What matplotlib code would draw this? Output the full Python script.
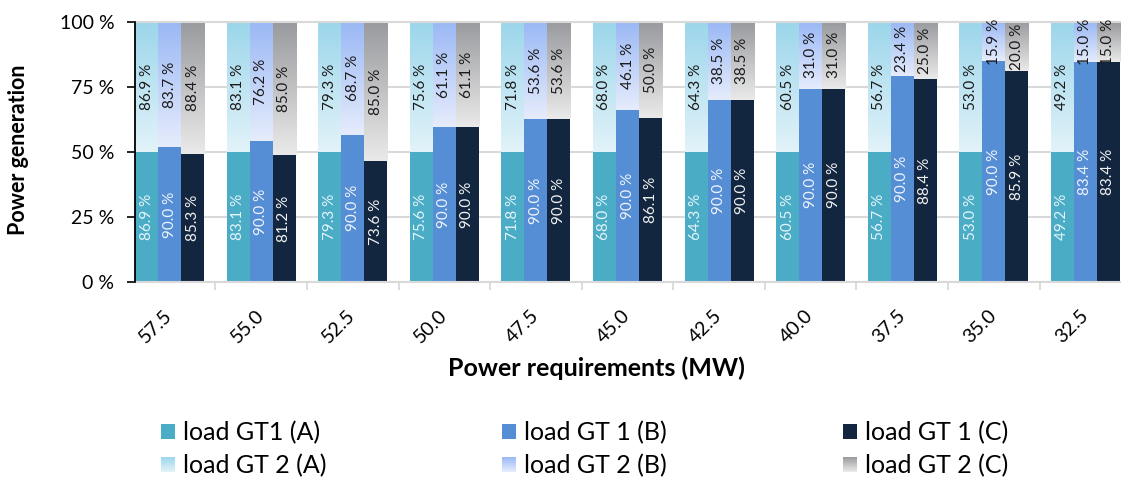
import numpy as np
import matplotlib
matplotlib.use("Agg")
import matplotlib.pyplot as plt
import matplotlib.transforms as mtransforms
from matplotlib.patches import Rectangle, Patch
from matplotlib.legend_handler import HandlerBase
from matplotlib.colors import to_rgb

plt.rcParams['font.family'] = ['Lato', 'DejaVu Sans']

# Power requirement cases (MW)
requirements = ["57.5", "55.0", "52.5", "50.0", "47.5", "45.0",
                "42.5", "40.0", "37.5", "35.0", "32.5"]

# Gas turbine loads (%) for the three operating strategies
gt1_a = [86.9, 83.1, 79.3, 75.6, 71.8, 68.0, 64.3, 60.5, 56.7, 53.0, 49.2]
gt2_a = [86.9, 83.1, 79.3, 75.6, 71.8, 68.0, 64.3, 60.5, 56.7, 53.0, 49.2]
gt1_b = [90.0, 90.0, 90.0, 90.0, 90.0, 90.0, 90.0, 90.0, 90.0, 90.0, 83.4]
gt2_b = [83.7, 76.2, 68.7, 61.1, 53.6, 46.1, 38.5, 31.0, 23.4, 15.9, 15.0]
gt1_c = [85.3, 81.2, 73.6, 90.0, 90.0, 86.1, 90.0, 90.0, 88.4, 85.9, 83.4]
gt2_c = [88.4, 85.0, 85.0, 61.1, 53.6, 50.0, 38.5, 31.0, 25.0, 20.0, 15.0]

series = [
    dict(gt1=gt1_a, gt2=gt2_a, c1='#4BACC6', grad=('#9CD6EB', '#E2F3F9'), lc='#E4F5FA',
         l1='load GT1 (A)', l2='load GT 2 (A)'),
    dict(gt1=gt1_b, gt2=gt2_b, c1='#558ED5', grad=('#9AB8F5', '#E6ECFC'), lc='#F0F4FC',
         l1='load GT 1 (B)', l2='load GT 2 (B)'),
    dict(gt1=gt1_c, gt2=gt2_c, c1='#132640', grad=('#999A9E', '#EAEAEA'), lc='#F2F2F2',
         l1='load GT 1 (C)', l2='load GT 2 (C)'),
]


def gradient(top, bottom, n=256):
    t = np.linspace(0, 1, n)[:, None]
    c0 = np.array(to_rgb(top))
    c1 = np.array(to_rgb(bottom))
    return (c0 * (1 - t) + c1 * t)[:, None, :]


class GradientHandler(HandlerBase):
    def __init__(self, top, bottom, steps=24):
        super().__init__()
        self.top, self.bottom, self.steps = top, bottom, steps

    def create_artists(self, legend, orig_handle, xdescent, ydescent,
                       width, height, fontsize, trans):
        arts = []
        c0 = np.array(to_rgb(self.top))
        c1 = np.array(to_rgb(self.bottom))
        h = height / self.steps
        for i in range(self.steps):
            t = i / (self.steps - 1)
            col = c1 * (1 - t) + c0 * t
            r = Rectangle((-xdescent, -ydescent + i * h), width, h * 1.05,
                          facecolor=col, edgecolor='none', transform=trans)
            arts.append(r)
        return arts


W, H = 1130, 478
fig = plt.figure(figsize=(W / 100, H / 100), dpi=100)
ax = fig.add_axes([135 / W, 1 - 282 / H, 985 / W, 260 / H])

x = np.arange(len(requirements))
w = 0.2514

for k, s in enumerate(series):
    g1 = np.array(s['gt1'])
    g2 = np.array(s['gt2'])
    total = g1 + g2
    share1 = g1 / total * 100
    share2 = g2 / total * 100
    pos = x + (k - 1) * w
    ax.bar(pos, share1, width=w, color=s['c1'], linewidth=0, zorder=2)
    tops = ax.bar(pos, share2, bottom=share1, width=w, color='none',
                  linewidth=0, zorder=2)
    img = gradient(*s['grad'])
    for r in tops:
        x0, y0 = r.get_x(), r.get_y()
        ax.imshow(img, extent=(x0, x0 + r.get_width(), y0, y0 + r.get_height()),
                  aspect='auto', interpolation='bilinear', zorder=2)
    for p, v1, v2, b1, b2 in zip(pos, g1, g2, share1, share2):
        ax.text(p, b1 / 2, f"{v1:.1f} %", rotation=90, ha='center', va='center',
                fontsize=11, color=s['lc'], zorder=3)
        ax.text(p, b1 + b2 / 2, f"{v2:.1f} %", rotation=90, ha='center', va='center',
                fontsize=11, color='#1A1A1A', zorder=3)

ax.set_yticks([0, 25, 50, 75, 100])
ax.set_yticklabels([f"{v} %" for v in [0, 25, 50, 75, 100]], fontsize=14)
ax.set_xticks(x)
ax.set_xticklabels(requirements, fontsize=14, rotation=45, ha='right',
                   va='center', rotation_mode='anchor')
shift = mtransforms.ScaledTranslation(2 / 72, 0, fig.dpi_scale_trans)
for lbl in ax.get_xticklabels():
    lbl.set_transform(lbl.get_transform() + shift)
ax.set_xticks(np.arange(1, len(requirements)) - 0.5, minor=True)
ax.tick_params(axis='x', which='major', length=0, pad=22)
ax.tick_params(axis='x', which='minor', length=6, color='#D9D9D9', width=1.3)
ax.tick_params(axis='y', length=6, color='black', width=1.2, pad=9)

ax.set_xlim(-1.5 * w, len(requirements) - 1 + 1.5 * w)
ax.set_ylim(0, 100)

ax.set_axisbelow(True)
ax.yaxis.grid(True, color='#D9D9D9', linewidth=1.5, zorder=0)
ax.spines['right'].set_visible(False)
ax.spines['top'].set_color('#D9D9D9')
ax.spines['top'].set_linewidth(1.5)
ax.spines['bottom'].set_color('#D9D9D9')
ax.spines['bottom'].set_linewidth(1.5)
ax.spines['left'].set_color('black')
ax.spines['left'].set_linewidth(1.3)
ax.spines['left'].set_zorder(4)

fig.text(596 / W, 1 - 368 / H, "Power requirements (MW)", ha='center', va='center',
         fontsize=18, fontweight='bold')
fig.text(19 / W, 1 - 150 / H, "Power generation", ha='center', va='center',
         rotation=90, fontsize=15.5, fontweight='bold')

# Legend: one block per strategy, GT1 solid on top, GT2 gradient below
legend_x = [161, 502, 843]
for lx, s in zip(legend_x, series):
    h1 = Patch(facecolor=s['c1'], edgecolor='none')
    h2 = Patch(facecolor=s['grad'][0], edgecolor='none')
    fig.legend([h1, h2], [s['l1'], s['l2']], loc='center left',
               bbox_to_anchor=(lx / W, 1 - 449 / H), frameon=False,
               fontsize=18, handlelength=0.56, handleheight=0.56,
               handletextpad=0.32, labelspacing=0.4, borderpad=0,
               borderaxespad=0,
               handler_map={h2: GradientHandler(*s['grad'])})

fig.savefig("out.png", dpi=100)
